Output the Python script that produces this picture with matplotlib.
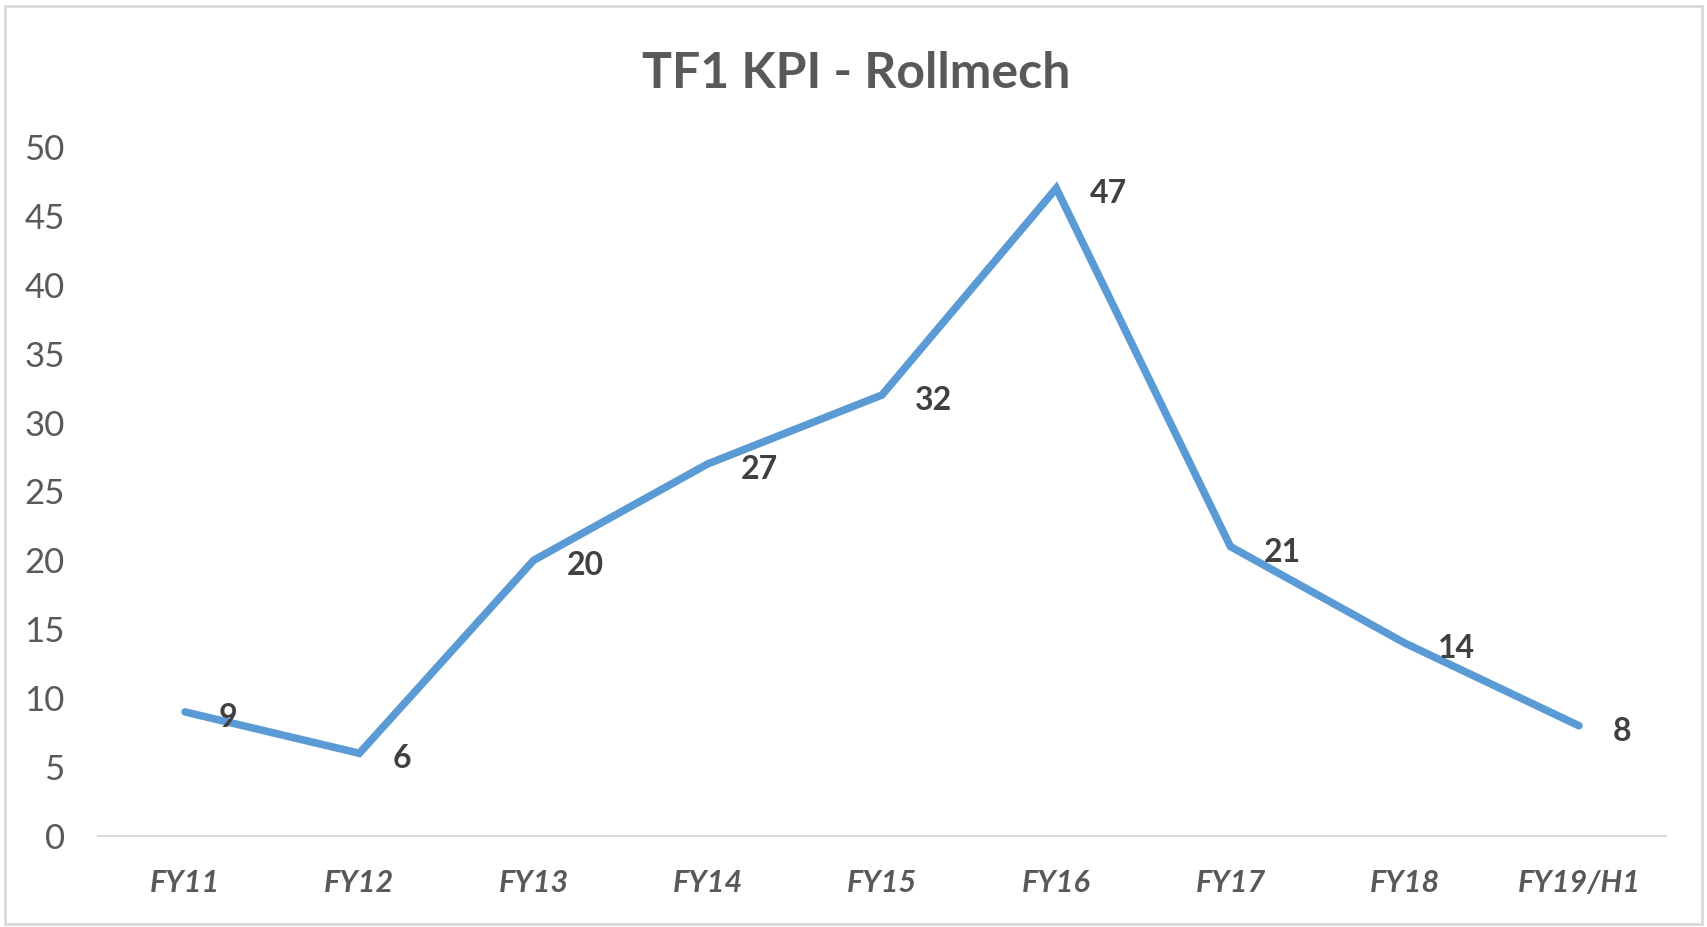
import matplotlib
matplotlib.use("Agg")
import matplotlib.pyplot as plt
from matplotlib.patches import Rectangle

# data
years = ["FY11", "FY12", "FY13", "FY14", "FY15", "FY16", "FY17", "FY18", "FY19/H1"]
kpi = [9, 6, 20, 27, 32, 47, 21, 14, 8]
y_ticks = [0, 5, 10, 15, 20, 25, 30, 35, 40, 45, 50]

plt.rcParams["font.family"] = ["Lato", "DejaVu Sans"]

fig = plt.figure(figsize=(17.07, 9.27), dpi=100)
ax = fig.add_axes([0.0574, 0.0982, 0.9186, 0.7433])

x = list(range(len(years)))
ax.plot(x, kpi, color="#5B9BD5", linewidth=5.5, solid_joinstyle="miter", solid_capstyle="round")

# data labels to the right of each point
for xi, v in zip(x, kpi):
    ax.annotate(str(v), (xi, v), xytext=(24, -4), textcoords="offset points",
                ha="left", va="center", fontsize=23, fontweight="bold", color="#404040")

ax.set_xlim(-0.5, len(years) - 0.5)
ax.set_ylim(0, 50)
ax.set_xticks(x)
ax.set_xticklabels(years, fontsize=22, fontweight="bold", fontstyle="italic", color="#595959")
ax.set_yticks(y_ticks)
ax.set_yticklabels([str(t) for t in y_ticks], fontsize=25, color="#595959")
ax.tick_params(axis="both", length=0)
ax.tick_params(axis="x", pad=24)
ax.tick_params(axis="y", pad=24)

for side in ["top", "right", "left"]:
    ax.spines[side].set_visible(False)
ax.spines["bottom"].set_color("#D9D9D9")
ax.spines["bottom"].set_linewidth(1.5)

fig.text(0.5015, 0.921, "TF1 KPI - Rollmech", ha="center", va="center",
         fontsize=36, fontweight="bold", color="#595959")

# chart area border
fig.patches.append(Rectangle((0.003, 0.003), 0.994, 0.991, transform=fig.transFigure,
                             fill=False, edgecolor="#D9D9D9", linewidth=2))

fig.savefig("out.png", dpi=100)
